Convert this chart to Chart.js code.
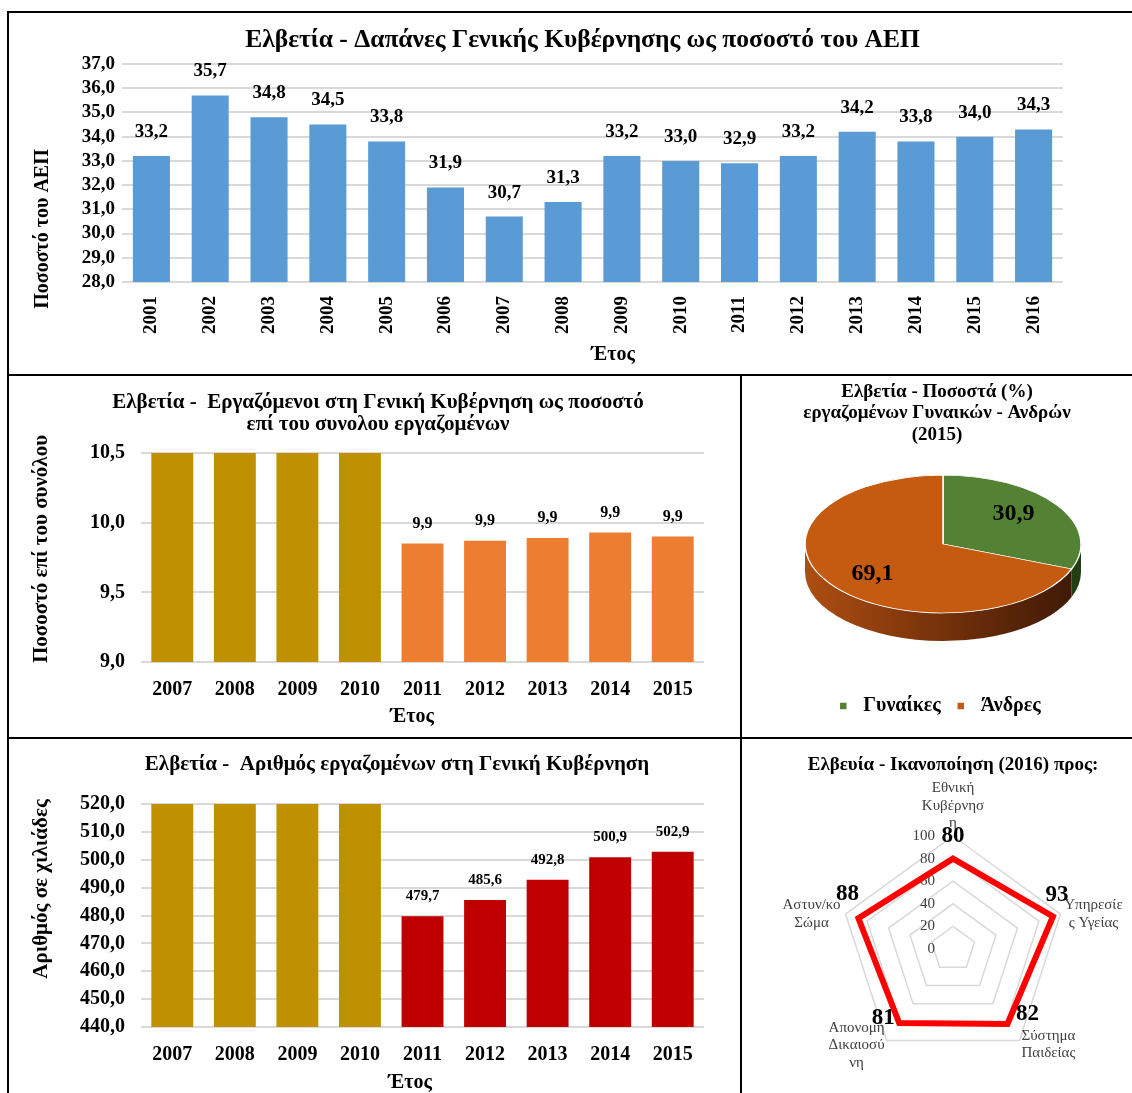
<!DOCTYPE html>
<html><head><meta charset="utf-8">
<script src="https://cdn.jsdelivr.net/npm/chart.js@4.4.1/dist/chart.umd.min.js"></script>
<style>
html,body{margin:0;padding:0;background:#fff;width:1132px;height:1093px;overflow:hidden;position:relative;}
.ln{position:absolute;background:#000;}
canvas{position:absolute;}
</style></head><body>
<div class="ln" style="left:7px;top:11px;width:1125px;height:2px"></div>
<div class="ln" style="left:7px;top:11px;width:2px;height:1082px"></div>
<div class="ln" style="left:7px;top:374px;width:1125px;height:2px"></div>
<div class="ln" style="left:740px;top:374px;width:2px;height:719px"></div>
<div class="ln" style="left:7px;top:737px;width:1125px;height:2px"></div>
<canvas id="c1" width="1147" height="361" style="left:9px;top:13px"></canvas>
<canvas id="c2" width="738" height="361" style="left:9px;top:376px"></canvas>
<canvas id="c4" width="776" height="354" style="left:9px;top:739px"></canvas>
<canvas id="c3" width="390" height="361" style="left:742px;top:376px"></canvas>
<canvas id="c5" width="390" height="354" style="left:742px;top:739px"></canvas>
<script>
// ---------- DATA ----------
const spendYears = ['2001','2002','2003','2004','2005','2006','2007','2008','2009','2010','2011','2012','2013','2014','2015','2016'];
const spendValues = [33.2,35.7,34.8,34.5,33.8,31.9,30.7,31.3,33.2,33.0,32.9,33.2,34.2,33.8,34.0,34.3];

const empYears = ['2007','2008','2009','2010','2011','2012','2013','2014','2015'];
// 2007-2010 run off the top of the axis in the picture (values above 10,5)
const empShareValues = [10.6,10.6,10.6,10.6,9.85,9.87,9.89,9.93,9.90];
// 2007-2010 run off the top of the axis in the picture (values above 520,0)
const empCountValues = [525.0,525.0,525.0,525.0,479.7,485.6,492.8,500.9,502.9];

const pieLabels = ['Γυναίκες','Άνδρες'];
const pieValues = [30.9,69.1];

const radarLabels = [['Εθνική','Κυβέρνησ','η'],['Υπηρεσίε','ς Υγείας'],['Σύστημα','Παιδείας'],['Απονομή','Δικαιοσύ','νη'],['Αστυν/κο','Σώμα']];
const radarValues = [80,93,82,81,88];

// ---------- STYLE ----------
const SERIF = "'Liberation Serif','Times New Roman',serif";
const GRID = '#D9D9D9';
const fmt1 = v => (Math.round(Number(v) * 10 + 1e-6) / 10).toFixed(1).replace('.', ',');
const bf = (size, lh) => ({family: SERIF, size: size, weight: 'bold', lineHeight: lh || 1.2});

const barLabels = {
  id: 'barLabels',
  afterDatasetsDraw(chart, args, opts) {
    const ctx = chart.ctx, ys = chart.scales.y;
    chart.data.datasets.forEach((ds, di) => {
      const meta = chart.getDatasetMeta(di);
      meta.data.forEach((el, i) => {
        const v = ds.data[i];
        if (v == null || v > ys.max) return;
        ctx.save();
        ctx.font = opts.font; ctx.fillStyle = '#000';
        ctx.textAlign = 'center'; ctx.textBaseline = 'middle';
        ctx.fillText(fmt1(v), el.x, el.y - opts.offset);
        ctx.restore();
      });
    });
  }
};

// axis titles placed where the original has them
const axisTitles = {
  id: 'axisTitles',
  afterDraw(chart, args, opts) {
    const ctx = chart.ctx;
    (opts.items || []).forEach(it => {
      ctx.save();
      ctx.font = 'bold ' + it.size + 'px ' + SERIF; ctx.fillStyle = '#000';
      ctx.textAlign = 'center'; ctx.textBaseline = 'middle';
      ctx.translate(it.x, it.y);
      if (it.rot) ctx.rotate(-Math.PI / 2);
      ctx.fillText(it.text, 0, 0);
      ctx.restore();
    });
  }
};

function barChart(id, cfg) {
  const canvas = document.getElementById(id);
  return new Chart(canvas, {
    type: 'bar',
    data: { labels: cfg.labels, datasets: [{ data: cfg.values, backgroundColor: cfg.colors, borderWidth: 0, barPercentage: cfg.barPct, categoryPercentage: 1, clip: 0, yAxisID: 'y' }] },
    plugins: [barLabels, axisTitles],
    options: {
      responsive: false, animation: false, events: [],
      layout: { padding: 0 },
      plugins: {
        legend: { display: false }, tooltip: { enabled: false },
        title: { display: true, text: cfg.title, color: '#000', font: cfg.titleFont, padding: cfg.titlePad },
        barLabels: { font: cfg.labelFont, offset: cfg.labelOffset },
        axisTitles: { items: [
          { text: 'Έτος', x: cfg.xTitlePos[0], y: cfg.xTitlePos[1], size: 20, rot: false },
          { text: cfg.yTitle, x: cfg.yTitlePos[0], y: cfg.yTitlePos[1], size: cfg.yTitleSize, rot: true }
        ] }
      },
      scales: {
        x: {
          grid: { display: false, drawTicks: false }, border: { display: false },
          ticks: { color: '#000', font: cfg.xTickFont, padding: cfg.xTickPad, minRotation: cfg.rot, maxRotation: cfg.rot, autoSkip: false },
          afterFit: s => { s.height = cfg.xHeight; }
        },
        y: {
          position: 'left', min: cfg.min, max: cfg.max,
          grid: { color: GRID, lineWidth: 2, drawTicks: false }, border: { display: false },
          ticks: { stepSize: cfg.step, autoSkip: false, color: '#000', font: cfg.yTickFont, padding: cfg.yTickPad, callback: v => fmt1(v) },
          afterFit: s => { s.width = cfg.plotLeft; }
        },
        // empty spacer on the right so the plot ends where the original's does
        yr: {
          position: 'right', grid: { display: false, drawTicks: false }, border: { display: false }, ticks: { display: false },
          afterFit: s => { s.width = canvas.width - cfg.plotRight; }
        }
      }
    }
  });
}

// top chart
barChart('c1', {
  labels: spendYears, values: spendValues, colors: spendValues.map(() => '#5B9BD5'), barPct: 0.63,
  title: 'Ελβετία - Δαπάνες Γενικής Κυβέρνησης ως ποσοστό του ΑΕΠ', titleFont: bf(25.5), titlePad: { top: 12, bottom: 8.4 },
  labelFont: 'bold 19px ' + SERIF, labelOffset: 24,
  xTickFont: bf(19), xTickPad: 14, rot: 90, xHeight: 92, xTitlePos: [604, 342],
  min: 28, max: 37, step: 1, yTickFont: bf(19), yTickPad: 7, yTitle: 'Ποσοστό του ΑΕΠ', yTitlePos: [34, 216], yTitleSize: 20,
  plotLeft: 113, plotRight: 1054
});

const gold = '#BF9000';
// middle chart
barChart('c2', {
  labels: empYears, values: empShareValues, colors: empYears.map(y => +y <= 2010 ? gold : '#ED7D31'), barPct: 0.67,
  title: ['Ελβετία -  Εργαζόμενοι στη Γενική Κυβέρνηση ως ποσοστό', 'επί του συνολου εργαζομένων'], titleFont: bf(21, 22/21), titlePad: { top: 16, bottom: 17 },
  labelFont: 'bold 16px ' + SERIF, labelOffset: 20,
  xTickFont: bf(20), xTickPad: 16, rot: 0, xHeight: 75, xTitlePos: [403, 341],
  min: 9, max: 10.5, step: 0.5, yTickFont: bf(20), yTickPad: 16, yTitle: 'Ποσοστό επί του συνόλου', yTitlePos: [33, 173], yTitleSize: 21,
  plotLeft: 132, plotRight: 695
});

// bottom chart
barChart('c4', {
  labels: empYears, values: empCountValues, colors: empYears.map(y => +y <= 2010 ? gold : '#C00000'), barPct: 0.67,
  title: 'Ελβετία -  Αριθμός εργαζομένων στη Γενική Κυβέρνηση', titleFont: bf(21, 22/21), titlePad: { top: 15, bottom: 28 },
  labelFont: 'bold 15px ' + SERIF, labelOffset: 20,
  xTickFont: bf(20), xTickPad: 16, rot: 0, xHeight: 66, xTitlePos: [401, 344],
  min: 440, max: 520, step: 10, yTickFont: bf(20), yTickPad: 16, yTitle: 'Αριθμός σε χιλιάδες', yTitlePos: [33, 150], yTitleSize: 21,
  plotLeft: 132, plotRight: 695
});

// pie (3D look)
const PIE = { x: 201, y: 168, tilt: 0.5, depth: 28, labelR: 0.62, labelTilt: 0.62 };
const pie3d = {
  id: 'pie3d',
  beforeDatasetsDraw(chart) {
    const meta = chart.getDatasetMeta(0), ctx = chart.ctx;
    const el0 = meta.data[0];
    const r = el0.outerRadius, X = PIE.x, Y = PIE.y, k = PIE.tilt, D = PIE.depth;
    ctx.save();
    meta.data.forEach((el, i) => {
      const s = Math.max(el.startAngle, 0), e = Math.min(el.endAngle, Math.PI);
      if (e <= s) return;
      ctx.beginPath();
      ctx.ellipse(X, Y, r, r * k, 0, s, e, false);
      ctx.ellipse(X, Y + D, r, r * k, 0, e, s, true);
      ctx.closePath();
      if (i === 0) ctx.fillStyle = '#223F14';
      else {
        const g = ctx.createLinearGradient(X - r, 0, X + r, 0);
        g.addColorStop(0, '#AE4E12'); g.addColorStop(0.45, '#7A340B'); g.addColorStop(1, '#3C1805');
        ctx.fillStyle = g;
      }
      ctx.fill();
    });
    ctx.restore();
    ctx.save();
    ctx.translate(X - el0.x, Y - el0.y * k);
    ctx.scale(1, k);
  },
  afterDatasetsDraw(chart) {
    const ctx = chart.ctx;
    ctx.restore();
    const meta = chart.getDatasetMeta(0);
    const vals = chart.data.datasets[0].data;
    ctx.save();
    ctx.font = 'bold 24px ' + SERIF; ctx.fillStyle = '#000';
    ctx.textAlign = 'center'; ctx.textBaseline = 'middle';
    meta.data.forEach((el, i) => {
      const mid = (el.startAngle + el.endAngle) / 2, d = el.outerRadius * PIE.labelR;
      ctx.fillText(fmt1(vals[i]), PIE.x + d * Math.cos(mid), PIE.y + d * Math.sin(mid) * PIE.labelTilt);
    });
    ctx.restore();
  }
};
new Chart(document.getElementById('c3'), {
  type: 'pie',
  data: { labels: pieLabels, datasets: [{ data: pieValues, backgroundColor: ['#548235', '#C55A11'], borderColor: '#FFFFFF', borderWidth: 1.5, radius: 138, clip: false }] },
  plugins: [pie3d],
  options: {
    responsive: false, animation: false, events: [],
    layout: { padding: { bottom: 11 } },
    plugins: {
      tooltip: { enabled: false },
      title: { display: true, text: ['Ελβετία - Ποσοστά (%)', 'εργαζομένων Γυναικών - Ανδρών', '(2015)'], color: '#000', font: bf(19, 21.5/19), padding: { top: 5, bottom: 0 } },
      legend: { position: 'bottom', labels: { usePointStyle: true, pointStyle: 'rect', boxHeight: 8, color: '#000', font: bf(20), padding: 10 } }
    }
  }
});

// radar
const RADAR = { tickDx: -18, labelOff: [[0,-30],[33,0],[29,4],[-30,5],[-34,0]], valOff: [[0,-23],[4,-21],[20,-10],[-16,-5],[-11,-24]] };
const radarText = {
  id: 'radarText',
  beforeDatasetsDraw(chart) {
    const sc = chart.scales.r, ctx = chart.ctx;
    ctx.save();
    ctx.fillStyle = '#404040'; ctx.font = '15px ' + SERIF; ctx.textBaseline = 'middle';
    ctx.textAlign = 'right';
    sc.ticks.forEach(t => {
      ctx.fillText(String(t.value), sc.xCenter + RADAR.tickDx, sc.yCenter - sc.getDistanceFromCenterForValue(t.value));
    });
    ctx.textAlign = 'center';
    chart.data.labels.forEach((lab, i) => {
      const p = sc.getPointPosition(i, sc.drawingArea);
      const lines = Array.isArray(lab) ? lab : [lab];
      const lh = 17.5;
      const cx = p.x + RADAR.labelOff[i][0], cy = p.y + RADAR.labelOff[i][1];
      lines.forEach((ln, j) => ctx.fillText(ln, cx, cy + (j - (lines.length - 1) / 2) * lh));
    });
    ctx.restore();
  },
  afterDatasetsDraw(chart) {
    const sc = chart.scales.r, ctx = chart.ctx;
    const vals = chart.data.datasets[0].data;
    ctx.save();
    ctx.fillStyle = '#000'; ctx.font = 'bold 23px ' + SERIF; ctx.textAlign = 'center'; ctx.textBaseline = 'middle';
    vals.forEach((v, i) => {
      const p = sc.getPointPosition(i, sc.getDistanceFromCenterForValue(v));
      ctx.fillText(String(v), p.x + RADAR.valOff[i][0], p.y + RADAR.valOff[i][1]);
    });
    ctx.restore();
  }
};
new Chart(document.getElementById('c5'), {
  type: 'radar',
  data: { labels: radarLabels, datasets: [{ data: radarValues, borderColor: '#FF0000', borderWidth: 6, pointRadius: 0, fill: false, backgroundColor: 'rgba(0,0,0,0)' }] },
  plugins: [radarText],
  options: {
    responsive: false, animation: false, events: [],
    layout: { padding: { left: 32, right: 0, top: 0, bottom: 31 } },
    plugins: {
      legend: { display: false }, tooltip: { enabled: false },
      title: { display: true, text: 'Ελβευία - Ικανοποίηση (2016) προς:', color: '#000', font: bf(19), padding: { top: 14.6, bottom: 59.6 } }
    },
    scales: { r: { min: 0, max: 100, ticks: { display: false, stepSize: 20 }, grid: { color: GRID, lineWidth: 1.5 }, angleLines: { display: false }, pointLabels: { display: false } } }
  }
});
</script>
</body></html>
